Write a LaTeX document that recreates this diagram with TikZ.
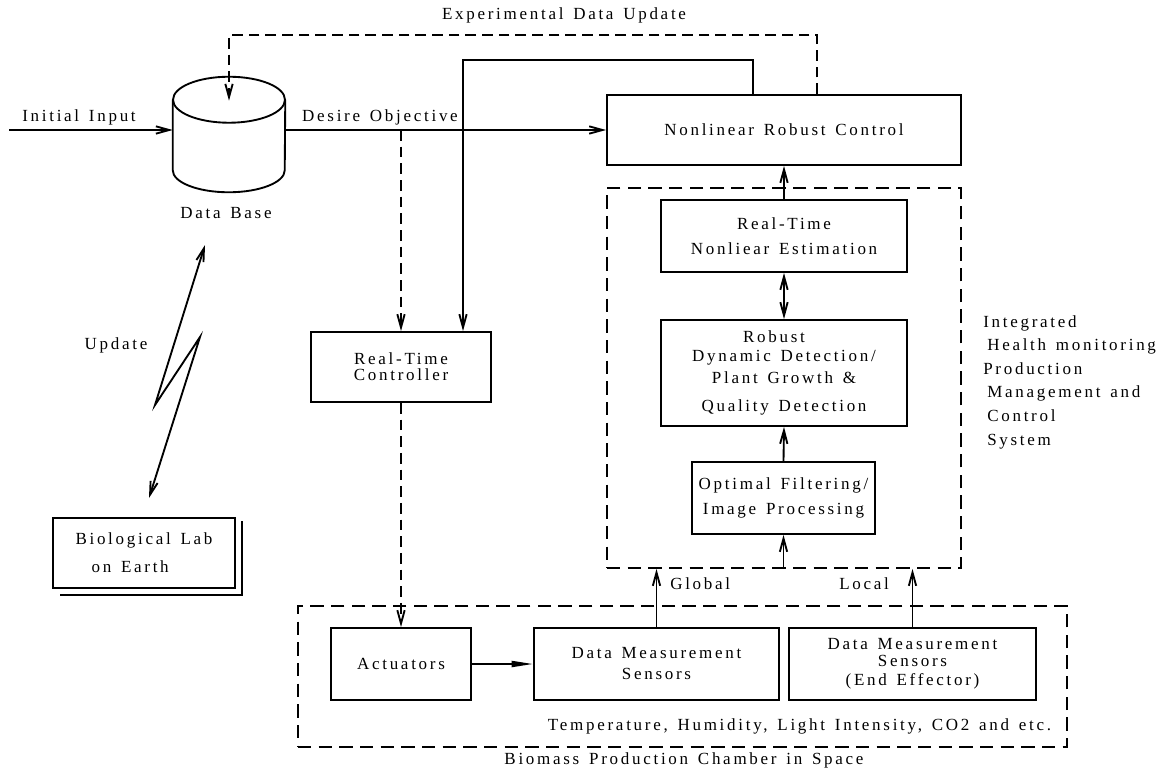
\documentclass[tikz,border=0pt]{standalone}
\usepackage{fontspec}
\setmainfont{Liberation Serif}[LetterSpace=16,WordSpace=1.4]
\usetikzlibrary{arrows.meta,calc}
\begin{document}
\begin{tikzpicture}[x=0.75pt,y=-0.75pt]
% block chart in pixel units, y pointing down
\def\px{0.75pt}
\providecommand{\bpcLineWidth}{1.4pt}
\providecommand{\bpcTextFont}{\fontsize{12.75}{15}\selectfont}
\tikzset{
  every node/.style={font=\bpcTextFont},
  >={Straight Barb[length=10pt,width=5.5pt]},
  blk/.style={draw, line width=\bpcLineWidth, align=center, inner sep=0pt},
  grp/.style={draw, line width=\bpcLineWidth, dash pattern=on 10pt off 5.5pt, inner sep=0pt},
  lbl/.style={inner sep=0pt},
  link/.style={line width=\bpcLineWidth},
  dlink/.style={link, dash pattern=on 8pt off 4.5pt},
}
\useasboundingbox (0,0) rectangle (1162,771);

% Data base cylinder
\node[lbl, minimum width=112*\px, minimum height=115*\px] (db) at (229,134.5) {};
\draw[link] ($(db.north west)+(0,23)$) -- ($(db.south west)+(0,-22)$)
  arc[start angle=180, end angle=0, x radius=56, y radius=22] -- ($(db.north east)+(0,23)$);
\draw[link] ($(db.north)+(0,23)$) ellipse [x radius=56, y radius=23];
\node[lbl] (dbname) at (226,213) {Data Base};

% Boxes
\node[blk, minimum width=354*\px, minimum height=70*\px] (nrc) at (784,130) {Nonlinear Robust Control};
\node[grp, minimum width=354*\px, minimum height=380*\px] (sys) at (784,378) {};
\node[blk, minimum width=246*\px, minimum height=72*\px] (est) at (784,236) {Real-Time\\[3.75pt]Nonliear Estimation};
\node[blk, minimum width=246*\px, minimum height=106*\px] (det) at (784,373)
  {Robust\hspace*{15pt}\\[-0.75pt]Dynamic Detection/\\[1.5pt]Plant Growth \&\\[6pt]Quality Detection};
\node[blk, minimum width=183*\px, minimum height=72*\px] (filt) at (783.5,498) {Optimal Filtering/\\[3.75pt]Image Processing};
\node[blk, minimum width=180*\px, minimum height=70*\px] (ctrl) at (401,367) {Real-Time\\[-3pt]Controller};
\node[blk, minimum width=182*\px, minimum height=70*\px, align=left] (lab) at (144,553)
  {Biological Lab\\[6pt]\hspace*{12pt}on Earth};
\draw[link] ($(lab.north east)+(6,4)$) -- ($(lab.south east)+(6,6)$) -- ($(lab.south west)+(8,6)$);

% Biomass chamber
\node[grp, minimum width=769*\px, minimum height=141*\px] (bpc) at (682.5,676.5) {};
\node[blk, minimum width=140*\px, minimum height=72*\px] (act) at (401,664) {Actuators};
\node[blk, minimum width=245*\px, minimum height=72*\px] (dms) at (656.5,664) {Data Measurement\\[0.75pt]Sensors};
\node[blk, minimum width=247*\px, minimum height=72*\px] (ee) at (912.5,664)
  {Data Measurement\\[-2.25pt]Sensors\\[-0.75pt](End Effector)};
\node[lbl] (env) at (799.5,726) {Temperature, Humidity, Light Intensity, CO2 and etc.};
\node[lbl] (bpcname) at (684,760) {Biomass Production Chamber in Space};

% Labels
\node[lbl] (titleupd) at (564,15) {Experimental Data Update};
\node[lbl] (inlbl) at (79,117) {Initial Input};
\node[lbl] (objlbl) at (380,117) {Desire Objective};
\node[lbl] (updlbl) at (116,345) {Update};
\node[lbl, anchor=west] (glbl) at (670,584) {Global};
\node[lbl, anchor=west] (llbl) at (839,584) {Local};
\node[lbl, anchor=west, align=left, font=\fontsize{12.75}{17.7}\selectfont] (sysname) at (983,382)
  {Integrated\\\hspace*{3pt}Health monitoring\\Production\\\hspace*{3pt}Management and\\\hspace*{3pt}Control\\\hspace*{3pt}System};

% Connectors
\coordinate (start) at (9,130);
\coordinate (expt) at (229,35);
\coordinate (fbk) at (463,60);
\draw[link,->] (start) -- (start -| db.west);
\draw[link,->] (db.east |- nrc.west) -- (nrc.west);
\draw[dlink,->] (ctrl.north |- nrc.west) -- (ctrl.north);
\draw[link,->] ($(nrc.north)+(-31,0)$) |- (fbk) -- (fbk |- ctrl.north);
\draw[dlink,->] ($(nrc.north)+(33,0)$) |- (expt) -- ($(db.north)+(0,24)$);
\draw[link,->] (est.north) -- (nrc.south);
\draw[link,<->] (est.south) -- (det.north);
\draw[link,->] (filt.north) -- (det.south);
\draw[link,->] (filt.south |- sys.south) -- (filt.south);
\draw[link,->] (dms.north) -- (dms.north |- sys.south);
\draw[link,->] (ee.north) -- (ee.north |- sys.south);
\draw[dlink,->] (ctrl.south) -- (act.north);
\draw[link,-{Triangle[length=16pt,width=4.5pt]}] (act.east) -- (dms.west);
% lightning link to the lab
\coordinate (zA) at (205,245);
\coordinate (zB) at (155,405);
\coordinate (zC) at (200,337);
\coordinate (zD) at (149,498);
\draw[link,<->] (zA) -- (zB) -- (zC) -- (zD);
\end{tikzpicture}
\end{document}
